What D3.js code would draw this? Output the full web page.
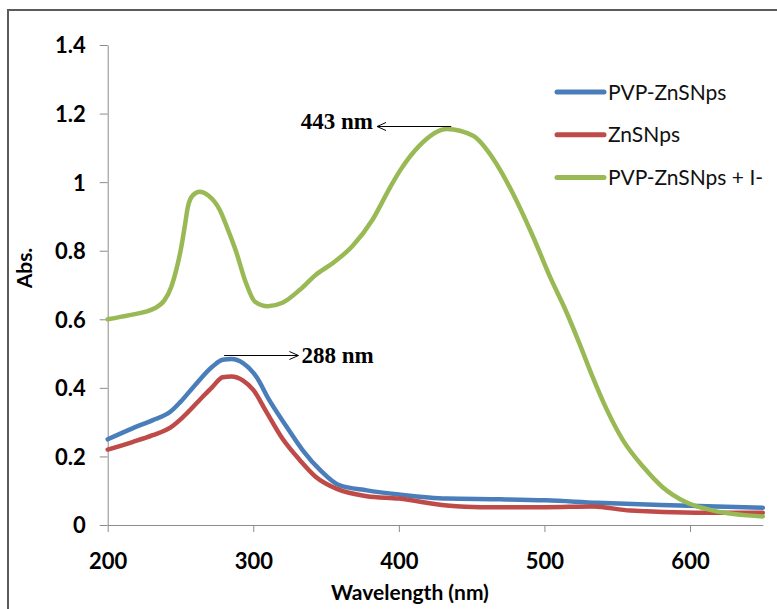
<!DOCTYPE html>
<html>
<head>
<meta charset="utf-8">
<script src="https://cdn.jsdelivr.net/npm/d3@7"></script>
<style>
  html, body { margin: 0; padding: 0; background: #fff; }
  svg { display: block; }
</style>
</head>
<body>
<svg id="chart" width="777" height="609"></svg>
<script>
// UV-Vis absorption spectra
const wavelengthPvp = [200, 217, 231, 243, 250, 261, 272, 279, 285, 293, 302, 311, 323, 334, 346, 359, 378, 400, 433, 470, 501, 536, 593, 650];
const absPvp        = [0.250, 0.282, 0.306, 0.330, 0.359, 0.413, 0.462, 0.482, 0.484, 0.472, 0.433, 0.364, 0.286, 0.218, 0.160, 0.116, 0.101, 0.089, 0.077, 0.075, 0.072, 0.065, 0.057, 0.050];

const wavelengthZns = [200, 217, 231, 243, 252, 263, 272, 279, 285, 293, 300, 309, 320, 332, 343, 357, 378, 400, 433, 456, 501, 533, 559, 604, 650];
const absZns        = [0.220, 0.242, 0.262, 0.284, 0.316, 0.364, 0.403, 0.431, 0.433, 0.421, 0.394, 0.330, 0.252, 0.189, 0.140, 0.106, 0.084, 0.077, 0.057, 0.052, 0.052, 0.054, 0.042, 0.036, 0.036];

const wavelengthPvpI = [200, 215, 232.2, 239.1, 243.7, 247.1, 250.6, 252.9, 255.1, 258.6, 263.2, 268.9, 277, 282.7, 288, 295, 301, 310, 320, 332, 343, 355, 368, 382, 394, 401, 414, 433, 451, 465, 478, 492, 504, 515, 524, 533, 543, 554, 568, 581, 597, 616, 650];
const absPvpI        = [0.600, 0.612, 0.632, 0.656, 0.695, 0.744, 0.812, 0.870, 0.928, 0.962, 0.972, 0.962, 0.919, 0.860, 0.800, 0.706, 0.652, 0.638, 0.648, 0.686, 0.730, 0.765, 0.813, 0.891, 0.985, 1.035, 1.106, 1.155, 1.135, 1.067, 0.970, 0.843, 0.722, 0.622, 0.530, 0.433, 0.335, 0.247, 0.169, 0.111, 0.067, 0.042, 0.025];

const seriesNames  = ["PVP-ZnSNps", "ZnSNps", "PVP-ZnSNps + I-"];
const seriesColors = ["#4a7ebb", "#be4b48", "#98b954"];

const xTickValues = [200, 300, 400, 500, 600];
const yTickValues = [0, 0.2, 0.4, 0.6, 0.8, 1, 1.2, 1.4];
const yTickLabels = ["0", "0.2", "0.4", "0.6", "0.8", "1", "1.2", "1.4"];

const xTitle = "Wavelength (nm)";
const yTitle = "Abs.";

// peak callouts: text, arrow start (nm, Abs.), arrow end (nm)
const peakLabels = ["443 nm", "288 nm"];
const peakFromWl = [436, 280];
const peakAbs    = [1.163, 0.497];
const peakToWl   = [385, 331];

const series = [
  { name: seriesNames[0], color: seriesColors[0], wl: wavelengthPvp,  abs: absPvp },
  { name: seriesNames[1], color: seriesColors[1], wl: wavelengthZns,  abs: absZns },
  { name: seriesNames[2], color: seriesColors[2], wl: wavelengthPvpI, abs: absPvpI }
];

const svg = d3.select("#chart");
const tickFont = "Lato, 'Open Sans', sans-serif";

// frame around the chart area
svg.append("path")
  .attr("d", "M8,609 V10 H777")
  .attr("fill", "none")
  .attr("stroke", "#5b5b5b")
  .attr("stroke-width", 2);

const x = d3.scaleLinear().domain([200, 650]).range([107.7, 762.8]);
const y = d3.scaleLinear().domain([0, 1.4]).range([525, 45]);

// x axis
const gx = svg.append("g")
  .attr("transform", "translate(0,525)")
  .call(d3.axisBottom(x).tickValues(xTickValues).tickSize(7).tickSizeOuter(0));
gx.select(".domain").attr("stroke", "#8c8c8c");
gx.selectAll(".tick line").attr("stroke", "#8c8c8c");
gx.selectAll(".tick text")
  .attr("y", 44).attr("dy", null)
  .attr("fill", "#000")
  .style("font-family", tickFont)
  .style("font-weight", "bold")
  .style("font-size", "22px");

// y axis
const gy = svg.append("g")
  .attr("transform", "translate(107.7,0)")
  .call(d3.axisLeft(y).tickValues(yTickValues).tickSize(8).tickSizeOuter(0)
    .tickFormat((d, i) => yTickLabels[i]));
gy.select(".domain").attr("stroke", "#8c8c8c");
gy.selectAll(".tick line").attr("stroke", "#8c8c8c");
gy.selectAll(".tick text")
  .attr("x", -22).attr("dy", "0.36em")
  .attr("fill", "#000")
  .style("font-family", tickFont)
  .style("font-weight", "bold")
  .style("font-size", "22px");

// axis titles
svg.append("text")
  .attr("x", 410).attr("y", 600)
  .attr("text-anchor", "middle")
  .style("font-family", tickFont).style("font-weight", "bold").style("font-size", "21px")
  .text(xTitle);

svg.append("text")
  .attr("transform", "translate(32,268) rotate(-90)")
  .attr("text-anchor", "middle")
  .style("font-family", tickFont).style("font-weight", "bold").style("font-size", "21px")
  .text(yTitle);

// spectra
const line = d3.line()
  .x(d => x(d[0]))
  .y(d => y(d[1]))
  .curve(d3.curveMonotoneX);

svg.append("g").selectAll("path")
  .data(series)
  .join("path")
  .attr("d", s => line(s.wl.map((w, i) => [w, s.abs[i]])))
  .attr("fill", "none")
  .attr("stroke", s => s.color)
  .attr("stroke-width", 4.5)
  .attr("stroke-linejoin", "round")
  .attr("stroke-linecap", "round");

// legend
const legend = svg.append("g").selectAll("g")
  .data(series)
  .join("g")
  .attr("transform", (s, i) => `translate(557,${92 + i * 42.7})`);
legend.append("line")
  .attr("x1", 0).attr("x2", 47)
  .attr("stroke", s => s.color)
  .attr("stroke-width", 5)
  .attr("stroke-linecap", "round");
legend.append("text")
  .attr("x", 51).attr("y", 7.5)
  .attr("fill", "#111")
  .style("font-family", tickFont).style("font-size", "21px")
  .text(s => s.name);

// peak callouts
const callouts = svg.append("g").selectAll("g")
  .data(peakLabels.map((t, i) => ({ text: t, from: peakFromWl[i], to: peakToWl[i], abs: peakAbs[i] })))
  .join("g");

callouts.append("path")
  .attr("d", c => {
    const x1 = x(c.from), x2 = x(c.to), yy = Math.round(y(c.abs)) + 0.5;
    const dir = x2 < x1 ? 1 : -1;
    return `M${x1},${yy} H${x2} M${x2 + dir * 9},${yy - 4} L${x2},${yy} L${x2 + dir * 9},${yy + 4}`;
  })
  .attr("fill", "none")
  .attr("stroke", "#000")
  .attr("stroke-width", 1);

callouts.append("text")
  .attr("x", c => x(c.to) + (c.to < c.from ? -4 : 3))
  .attr("y", c => y(c.abs) + (c.to < c.from ? 3 : 8))
  .attr("text-anchor", c => c.to < c.from ? "end" : "start")
  .style("font-family", "'Liberation Serif', 'Times New Roman', serif")
  .style("font-weight", "bold")
  .style("font-size", "23px")
  .text(c => c.text);
</script>
</body>
</html>
